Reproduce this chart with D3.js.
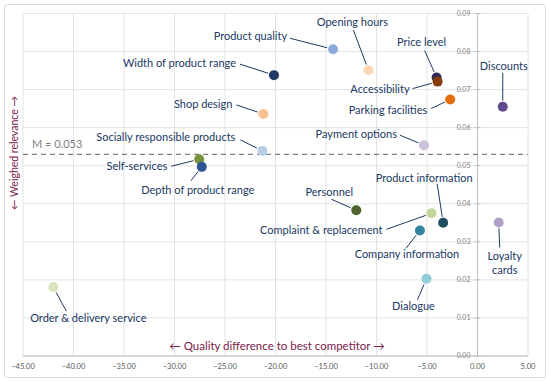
<!DOCTYPE html>
<html>
<head>
<meta charset="utf-8">
<script src="https://cdn.jsdelivr.net/npm/d3@7"></script>
<style>
  body { margin: 0; background: #fff; }
  svg { display: block; }
</style>
</head>
<body>
<svg id="chart" width="550" height="382"></svg>
<script>
const svg = d3.select("#chart");
const width = +svg.attr("width");
const height = +svg.attr("height");

// data
const categories = [
    "Product quality", "Opening hours", "Width of product range", "Price level",
    "Accessibility", "Parking facilities", "Discounts", "Shop design",
    "Payment options", "Socially responsible products", "Self-services",
    "Depth of product range", "Personnel", "Complaint & replacement",
    "Product information", "Loyalty cards", "Company information", "Dialogue",
    "Order & delivery service"
];
const qualityDiff = [-14.3, -10.8, -20.15, -4.05, -3.95, -2.7, 2.5, -21.2,
    -5.3, -21.3, -27.55, -27.3, -12.0, -4.55, -3.4, 2.1, -5.7, -5.05, -42.0];
const relevance = [0.0806, 0.0751, 0.0738, 0.0732, 0.0721, 0.0674, 0.0655, 0.0636,
    0.0554, 0.0539, 0.0517, 0.0497, 0.0383, 0.0375, 0.0350, 0.0351, 0.0330, 0.0203, 0.0181];
const pointColors = ["#8eaadb", "#fcd5b4", "#203864", "#2f2850", "#843c0c", "#e46c0a",
    "#5f4b8b", "#fac090", "#ccc0da", "#b8cce4", "#76923c", "#2f5597", "#4f6228",
    "#c3d69b", "#1d4f5f", "#b2a1c7", "#31849b", "#92cddc", "#d7e4bd"];
const xTicks = [-45, -40, -35, -30, -25, -20, -15, -10, -5, 0, 5];
const yTicks = [0, 0.01, 0.02, 0.03, 0.04, 0.05, 0.06, 0.07, 0.08, 0.09];
const meanRelevance = 0.053;

// label placement, pixel offsets from the point: text pos, anchor, leader start
const labelLayout = [
    { dx: -46, dy: -13, anchor: "end", lx: -43, ly: -11 },
    { dx: -16, dy: -48, anchor: "middle", lx: -15, ly: -40 },
    { dx: -38, dy: -12, anchor: "end", lx: -34, ly: -11 },
    { dx: -15, dy: -35, anchor: "middle", lx: -12, ly: -27 },
    { dx: -28, dy: 8, anchor: "end", lx: -25, ly: 7 },
    { dx: -23, dy: 11, anchor: "end", lx: -19, ly: 9 },
    { dx: 1, dy: -41, anchor: "middle", lx: 0, ly: -34 },
    { dx: -31, dy: -10, anchor: "end", lx: -27, ly: -9 },
    { dx: -27, dy: -11, anchor: "end", lx: -24, ly: -10 },
    { dx: -27, dy: -14, anchor: "end", lx: -22, ly: -11 },
    { dx: -32, dy: 7, anchor: "end", lx: -28, ly: 7 },
    { dx: -4, dy: 23, anchor: "middle", lx: -11, ly: 14 },
    { dx: -27, dy: -18, anchor: "middle", lx: -25, ly: -11 },
    { dx: -49, dy: 17, anchor: "end", lx: -45, ly: 16 },
    { dx: -19, dy: -45, anchor: "middle", lx: -6, ly: -39 },
    { dx: 6, dy: 34, anchor: "middle", lx: 1, ly: 25, lines: ["Loyalty", "cards"] },
    { dx: -13, dy: 24, anchor: "middle", lx: -14, ly: 18 },
    { dx: -13, dy: 27, anchor: "middle", lx: -9, ly: 21 },
    { dx: 35, dy: 31, anchor: "middle", lx: 13, ly: 24 }
];

const labelFont = "Lato, 'Open Sans', sans-serif";
const labelColor = "#203864";
const titleColor = "#7b2049";
const r = 5;

const x = d3.scaleLinear().domain([-45, 5]).range([23, 528]);
const y = d3.scaleLinear().domain([0, 0.09]).range([356, 13.5]);

// chart border
svg.append("rect")
    .attr("x", 4.5).attr("y", 4.5)
    .attr("width", width - 9).attr("height", height - 9)
    .attr("rx", 3)
    .attr("fill", "#fff")
    .attr("stroke", "#d9d9d9");

// gridlines
svg.append("g").selectAll("line").data(xTicks).join("line")
    .attr("x1", d => x(d)).attr("x2", d => x(d))
    .attr("y1", y(0.09)).attr("y2", y(0))
    .attr("stroke", "#e3e3e3").attr("stroke-width", 1);
svg.append("g").selectAll("line").data(yTicks).join("line")
    .attr("x1", x(-45)).attr("x2", x(5))
    .attr("y1", d => y(d)).attr("y2", d => y(d))
    .attr("stroke", "#e3e3e3").attr("stroke-width", 1);

// x axis along y = 0
svg.append("line")
    .attr("x1", x(-45)).attr("x2", x(5))
    .attr("y1", y(0)).attr("y2", y(0))
    .attr("stroke", "#bfbfbf");
svg.append("g").selectAll("text").data(xTicks).join("text")
    .attr("x", d => x(d)).attr("y", 369)
    .attr("text-anchor", "middle")
    .attr("font-family", labelFont)
    .attr("font-size", 7.5)
    .attr("fill", "#595959")
    .text(d => d3.format(".2f")(d).replace("-", "\u2212"));

// y axis at x = 0
const yAxis = svg.append("g").attr("transform", `translate(${x(0)},0)`);
yAxis.append("line")
    .attr("y1", y(0)).attr("y2", y(0.09))
    .attr("stroke", "#bfbfbf");
yAxis.selectAll("line.tick").data(yTicks).join("line")
    .attr("class", "tick")
    .attr("x1", -3).attr("x2", 3)
    .attr("y1", d => y(d)).attr("y2", d => y(d))
    .attr("stroke", "#bfbfbf");
yAxis.selectAll("text").data(yTicks).join("text")
    .attr("x", -7).attr("y", d => y(d))
    .attr("dy", "0.35em")
    .attr("text-anchor", "end")
    .attr("font-family", labelFont)
    .attr("font-size", 7)
    .attr("fill", "#7f7f7f")
    .text(d => d3.format(".2f")(d));

// mean line
svg.append("line")
    .attr("x1", x(-45)).attr("x2", x(5))
    .attr("y1", y(meanRelevance)).attr("y2", y(meanRelevance))
    .attr("stroke", "#808080")
    .attr("stroke-width", 1.2)
    .attr("stroke-dasharray", "5,4");
svg.append("text")
    .attr("x", 32).attr("y", y(meanRelevance) - 10)
    .attr("dy", "0.35em")
    .attr("font-family", labelFont)
    .attr("font-size", 11)
    .attr("fill", "#808080")
    .text("M = " + meanRelevance);

// axis titles
svg.append("text")
    .attr("x", 277).attr("y", 346)
    .attr("dy", "0.35em")
    .attr("text-anchor", "middle")
    .attr("font-family", labelFont)
    .attr("font-size", 11.5)
    .attr("fill", titleColor)
    .text("\u2190 Quality difference to best competitor \u2192");
svg.append("text")
    .attr("transform", "translate(14,153) rotate(-90)")
    .attr("dy", "0.35em")
    .attr("text-anchor", "middle")
    .attr("font-family", labelFont)
    .attr("font-size", 10.5)
    .attr("fill", titleColor)
    .text("\u2190 Weighed relevance \u2192");

// points and labels
const items = categories.map((c, i) => ({
    name: c,
    px: x(qualityDiff[i]),
    py: y(relevance[i]),
    color: pointColors[i],
    lab: labelLayout[i]
}));

const leaders = svg.append("g");
items.forEach(d => {
    const sx = d.px + d.lab.lx, sy = d.py + d.lab.ly;
    const len = Math.hypot(d.px - sx, d.py - sy);
    const k = (len - r - 1) / len;
    leaders.append("line")
        .attr("x1", sx).attr("y1", sy)
        .attr("x2", sx + (d.px - sx) * k).attr("y2", sy + (d.py - sy) * k)
        .attr("stroke", labelColor)
        .attr("stroke-width", 1);
});

svg.append("g").selectAll("circle").data(items).join("circle")
    .attr("cx", d => d.px).attr("cy", d => d.py)
    .attr("r", r)
    .attr("fill", d => d.color);

const labels = svg.append("g")
    .attr("font-family", labelFont)
    .attr("font-size", 11)
    .attr("fill", labelColor);
items.forEach(d => {
    const lines = d.lab.lines || [d.name];
    const t = labels.append("text")
        .attr("text-anchor", d.lab.anchor);
    lines.forEach((s, j) => {
        t.append("tspan")
            .attr("x", d.px + d.lab.dx)
            .attr("y", d.py + d.lab.dy + j * 14)
            .attr("dy", "0.35em")
            .text(s);
    });
});
</script>
</body>
</html>
